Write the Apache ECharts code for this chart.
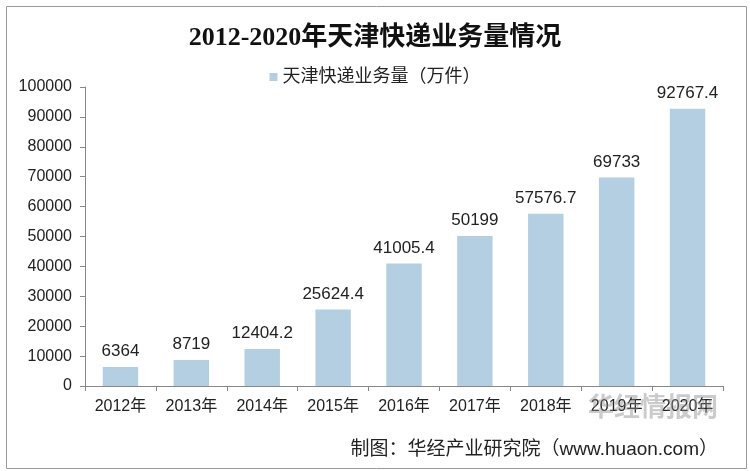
<!DOCTYPE html>
<html><head><meta charset="utf-8">
<script src="https://cdn.jsdelivr.net/npm/echarts@6/dist/echarts.min.js"></script>
<style>html,body{margin:0;padding:0;background:#fff}#c{width:750px;height:471px}</style>
</head><body><div id="c"></div>
<script>
const categories = ['2012年','2013年','2014年','2015年','2016年','2017年','2018年','2019年','2020年'];
const values = [6364, 8719, 12404.2, 25624.4, 41005.4, 50199, 57576.7, 69733, 92767.4];
const seriesName = '天津快递业务量（万件）';
const titleText = '2012-2020年天津快递业务量情况';
const sourceText = '制图：华经产业研究院（www.huaon.com）';

const chart = echarts.init(document.getElementById('c'));
chart.setOption({
  animation: false,
  title: {
    text: titleText, left: 'center', top: 20,
    textStyle: { fontFamily: '"Liberation Serif","Noto Sans CJK SC",serif', fontWeight: 'bold', fontSize: 26, color: '#111' }
  },
  legend: {
    data: [seriesName], top: 63, left: 'center', itemWidth: 8, itemHeight: 8, itemGap: 3,
    icon: 'rect',
    textStyle: { fontFamily: '"Liberation Sans","Noto Sans CJK SC",sans-serif', fontSize: 18, color: '#222' }
  },
  grid: { left: 85, right: 27, top: 87, bottom: 85, containLabel: false },
  xAxis: {
    type: 'category', data: categories,
    axisLine: { lineStyle: { color: '#888' } },
    axisTick: { show: true, alignWithLabel: false, length: 5, lineStyle: { color: '#888' } },
    axisLabel: { fontFamily: '"Liberation Sans","Noto Sans CJK SC",sans-serif', fontSize: 16, color: '#222', margin: 13, interval: 0 }
  },
  yAxis: {
    type: 'value', min: 0, max: 100000, interval: 10000,
    axisLine: { show: true, lineStyle: { color: '#888' } },
    axisTick: { show: true, length: 5, lineStyle: { color: '#888' } },
    splitLine: { show: false },
    axisLabel: { fontFamily: '"Liberation Sans",sans-serif', fontSize: 16, color: '#222', margin: 13, formatter: v => String(v) }
  },
  series: [{
    name: seriesName, type: 'bar', data: values, barWidth: '50%',
    itemStyle: { color: '#b5cfe2' },
    label: { show: true, position: 'top', distance: 7, fontFamily: '"Liberation Sans",sans-serif', fontSize: 17, color: '#222' }
  }],
  graphic: [
    { type: 'rect', left: 4, top: 4, shape: { width: 740, height: 462 }, style: { fill: 'none', stroke: '#999', lineWidth: 1 }, silent: true },
    { type: 'text', left: 588, top: 393, z: 10, style: { text: '华经情报网', fill: 'rgba(140,140,140,0.45)', font: 'bold 26px "Noto Sans CJK SC"' } },
    { type: 'text', right: 32, top: 440, style: { text: sourceText, fill: '#222', font: '19px "Liberation Sans","Noto Sans CJK SC",sans-serif', textAlign: 'right' } }
  ]
});
</script></body></html>
